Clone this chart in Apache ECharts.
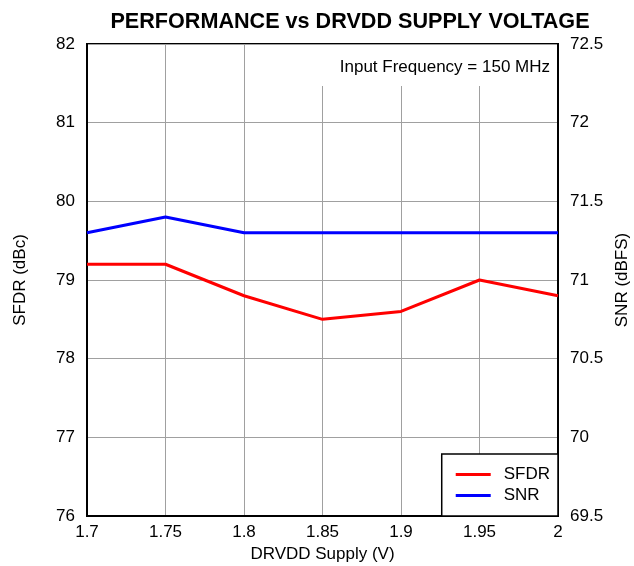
<!DOCTYPE html>
<html>
<head>
<meta charset="utf-8">
<script src="https://cdn.jsdelivr.net/npm/echarts@6/dist/echarts.min.js"></script>
<style>
  html, body { margin: 0; padding: 0; background: #fff; }
  #chart { width: 634px; height: 566px; }
</style>
</head>
<body>
<div id="chart"></div>
<script>
var supply = ['1.7', '1.75', '1.8', '1.85', '1.9', '1.95', '2'];
var sfdr = [79.2, 79.2, 78.8, 78.5, 78.6, 79.0, 78.8];
var snr = [71.3, 71.4, 71.3, 71.3, 71.3, 71.3, 71.3];

var font = 'Liberation Sans, Arial, sans-serif';
var chart = echarts.init(document.getElementById('chart'));

chart.setOption({
  backgroundColor: '#fff',
  animation: false,
  textStyle: { fontFamily: font, color: '#000' },
  title: {
    text: 'PERFORMANCE vs DRVDD SUPPLY VOLTAGE',
    left: 345,
    top: 6,
    textAlign: 'center',
    textStyle: { fontSize: 21.6, fontWeight: 'bold', fontFamily: font, color: '#000' }
  },
  grid: {
    left: 87, right: 76, top: 44, bottom: 50,
    outerBoundsMode: 'none',
    containLabel: false,
    show: true, borderColor: '#000', borderWidth: 2, backgroundColor: 'transparent'
  },
  legend: {
    data: ['SFDR', 'SNR'],
    orient: 'vertical',
    right: 76,
    bottom: 50,
    icon: 'rect',
    itemWidth: 35,
    itemHeight: 3,
    itemGap: 4,
    padding: [12, 8, 12, 14],
    backgroundColor: '#fff',
    borderColor: '#000',
    borderWidth: 1.5,
    borderRadius: 0,
    textStyle: { fontSize: 17, fontFamily: font, color: '#000', padding: [0, 0, 0, 8] },
    z: 10
  },
  xAxis: {
    type: 'category',
    data: supply,
    boundaryGap: false,
    name: 'DRVDD Supply (V)',
    nameLocation: 'middle',
    nameGap: 30,
    nameTextStyle: { fontSize: 17, fontFamily: font, color: '#000' },
    axisLine: { lineStyle: { color: '#000', width: 2 } },
    axisTick: { show: false },
    axisLabel: { fontSize: 17, color: '#000', fontFamily: font, margin: 8 },
    splitLine: { show: true, lineStyle: { color: '#a0a0a0', width: 1 } }
  },
  yAxis: [
    {
      type: 'value',
      min: 76, max: 82, interval: 1,
      name: 'SFDR (dBc)',
      nameLocation: 'middle',
      nameGap: 58,
      nameRotate: 90,
      nameTextStyle: { fontSize: 17, fontFamily: font, color: '#000' },
      axisLine: { show: true, lineStyle: { color: '#000', width: 2 } },
      axisTick: { show: false },
      axisLabel: { fontSize: 17, color: '#000', fontFamily: font, margin: 12 },
      splitLine: { show: true, lineStyle: { color: '#a0a0a0', width: 1 } }
    },
    {
      type: 'value',
      min: 69.5, max: 72.5, interval: 0.5,
      name: 'SNR (dBFS)',
      nameLocation: 'middle',
      nameGap: 55,
      nameRotate: 90,
      nameTextStyle: { fontSize: 17, fontFamily: font, color: '#000' },
      axisLine: { show: true, lineStyle: { color: '#000', width: 2 } },
      axisTick: { show: false },
      axisLabel: { fontSize: 17, color: '#000', fontFamily: font, margin: 12 },
      splitLine: { show: false }
    }
  ],
  graphic: [
    {
      type: 'rect',
      shape: { x: 320, y: 45, width: 236, height: 41 },
      style: { fill: '#fff' },
      z: 5
    },
    {
      type: 'text',
      x: 550, y: 67,
      style: {
        text: 'Input Frequency = 150 MHz',
        fill: '#000',
        font: '17px ' + font,
        textAlign: 'right',
        textVerticalAlign: 'middle'
      },
      z: 6
    }
  ],
  series: [
    {
      name: 'SFDR',
      type: 'line',
      yAxisIndex: 0,
      data: sfdr,
      symbol: 'none',
      lineStyle: { color: '#ff0000', width: 3 },
      itemStyle: { color: '#ff0000' }
    },
    {
      name: 'SNR',
      type: 'line',
      yAxisIndex: 1,
      data: snr,
      symbol: 'none',
      lineStyle: { color: '#0000ff', width: 3 },
      itemStyle: { color: '#0000ff' }
    }
  ]
});
</script>
</body>
</html>
